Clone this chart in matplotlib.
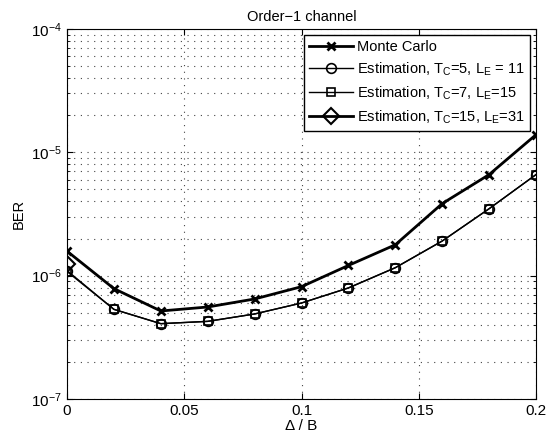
import matplotlib
matplotlib.use("Agg")
import matplotlib.pyplot as plt
from matplotlib.ticker import LogLocator, NullFormatter

plt.rcParams['font.family'] = ['Liberation Sans', 'DejaVu Sans']
plt.rcParams['mathtext.default'] = 'regular'
plt.rcParams['mathtext.fontset'] = 'custom'
plt.rcParams['mathtext.rm'] = 'Liberation Sans'

delta = [0, 0.02, 0.04, 0.06, 0.08, 0.10, 0.12, 0.14, 0.16, 0.18, 0.20]
monte_carlo = [1.58e-6, 7.85e-7, 5.17e-7, 5.57e-7, 6.47e-7, 8.14e-7, 1.21e-6, 1.78e-6, 3.84e-6, 6.6e-6, 1.39e-5]
est_tc5 = [1.10e-6, 5.33e-7, 4.08e-7, 4.26e-7, 4.89e-7, 6.0e-7, 7.95e-7, 1.16e-6, 1.91e-6, 3.49e-6, 6.6e-6]
est_tc7 = [1.08e-6, 5.33e-7, 4.08e-7, 4.26e-7, 4.89e-7, 6.0e-7, 7.95e-7, 1.16e-6, 1.91e-6, 3.49e-6, 6.6e-6]
delta_tc15 = [0]
est_tc15 = [1.24e-6]

xticks = [0, 0.05, 0.1, 0.15, 0.2]
xticklabels = ['0', '0.05', '0.1', '0.15', '0.2']

fig = plt.figure(figsize=(5.53, 4.36), dpi=100)
ax = fig.add_axes([0.1212, 0.0849, 0.8481, 0.8486])

ax.semilogy(delta, monte_carlo, '-x', color='black', lw=2, ms=6, mew=2,
            label='Monte Carlo')
ax.semilogy(delta, est_tc5, '-o', color='black', lw=1, ms=7, mfc='none', mew=1.2,
            label='Estimation, T$_C$=5, L$_E$ = 11')
ax.semilogy(delta, est_tc7, '-s', color='black', lw=1, ms=6, mfc='none', mew=1.2,
            label='Estimation, T$_C$=7, L$_E$=15')
ax.semilogy(delta_tc15, est_tc15, '-D', color='black', lw=2, ms=8, mfc='none', mew=1.5,
            label='Estimation, T$_C$=15, L$_E$=31')

ax.set_xlim(0, 0.2)
ax.set_ylim(1e-7, 1e-4)
ax.set_xticks(xticks)
ax.set_xticklabels(xticklabels)
ax.yaxis.set_major_locator(LogLocator(base=10, numticks=10))
ax.yaxis.set_minor_locator(LogLocator(base=10, subs=range(2, 10), numticks=20))
ax.yaxis.set_minor_formatter(NullFormatter())

grid_style = dict(linestyle=(0, (1, 5)), color='#444444', lw=0.8)
ax.grid(True, which='major', axis='both', **grid_style)
ax.grid(True, which='minor', axis='y', **grid_style)

ax.tick_params(which='both', direction='in', top=True, right=True, labelsize=11)
ax.tick_params(which='major', length=4)
ax.tick_params(which='minor', length=2)
for s in ax.spines.values():
    s.set_linewidth(0.8)

ax.set_title('Order\u22121 channel', fontsize=10.5, pad=6)
ax.set_xlabel('\u0394 / B', fontsize=11, labelpad=1)
ax.set_ylabel('BER', fontsize=10.5)

leg = ax.legend(loc='upper right', fontsize=10.5, handlelength=3.0, fancybox=False,
                framealpha=1, edgecolor='black', borderpad=0.35, labelspacing=0.45,
                handletextpad=0.3, borderaxespad=0.4)
leg.get_frame().set_linewidth(1.0)

fig.savefig('out.png', dpi=100)
